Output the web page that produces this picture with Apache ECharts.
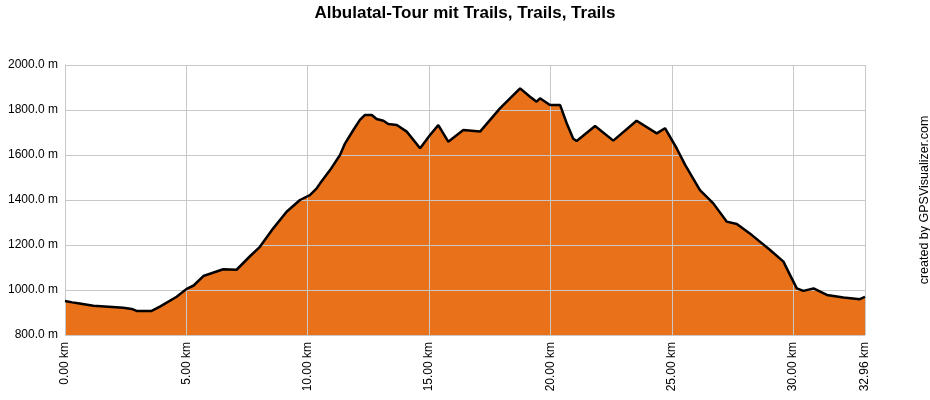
<!DOCTYPE html>
<html>
<head>
<meta charset="utf-8">
<script src="https://cdn.jsdelivr.net/npm/echarts@6/dist/echarts.min.js"></script>
<style>
  html, body { margin: 0; padding: 0; background: #fff; }
  #chart { width: 930px; height: 400px; }
</style>
</head>
<body>
<div id="chart"></div>
<script>
// profile: distance in km, elevation in m
const distances = [0, 0.3, 0.6, 1.17, 1.8, 2.4, 2.75, 2.95, 3.57, 3.91, 4.6, 5.01, 5.3, 5.7, 6.52, 7.07,
  7.62, 8.03, 8.58, 9.13, 9.68, 10.09, 10.37, 10.51, 10.92, 11.33, 11.54, 11.88, 12.15, 12.36, 12.64,
  12.84, 13.12, 13.32, 13.67, 14.08, 14.63, 15.04, 15.38, 15.45, 15.79, 16.41, 17.1, 17.92, 18.75,
  19.16, 19.43, 19.57, 19.98, 20.4, 20.67, 20.94, 21.08, 21.84, 22.59, 23.55, 24.38, 24.72, 25.2,
  25.55, 26.16, 26.71, 27.26, 27.68, 28.3, 29.05, 29.6, 29.87, 30.15, 30.42, 30.84, 31.39, 32.07,
  32.75, 32.96]
const elevations = [951, 945, 940, 930, 926, 921, 916, 907, 907, 926, 970, 1005, 1020, 1062, 1092, 1090,
  1150, 1192, 1274, 1348, 1400, 1422, 1452, 1474, 1533, 1600, 1652, 1711, 1756, 1778, 1778,
  1760, 1752, 1738, 1733, 1704, 1630, 1689, 1733, 1741, 1659, 1711, 1704, 1807, 1896,
  1859, 1837, 1852, 1822, 1822, 1741, 1672, 1662, 1729, 1664, 1752, 1696, 1719, 1630,
  1556, 1444, 1385, 1304, 1293, 1244, 1178, 1126, 1067, 1007, 996, 1007, 978, 967,
  959, 970]

const xMin = 0, xMax = 32.96, xStep = 5
const yMin = 800, yMax = 2000, yStep = 200

const points = distances.map((d, i) => [d, elevations[i]])

const chart = echarts.init(document.getElementById('chart'))

const option = {
  animation: false,
  backgroundColor: '#fff',
  title: {
    text: 'Albulatal-Tour mit Trails, Trails, Trails',
    left: 'center',
    top: 0,
    textStyle: { fontFamily: 'Liberation Sans', fontSize: 17, fontWeight: 'bold', color: '#000' }
  },
  grid: { left: 65, right: 65, top: 65, bottom: 65 },
  xAxis: {
    type: 'value',
    min: xMin,
    max: xMax,
    interval: xStep,
    z: 3,
    axisLine: { show: false },
    axisTick: { show: false },
    splitLine: { show: true, lineStyle: { color: '#c8c8c8', width: 1 } },
    axisLabel: {
      rotate: 90,
      margin: 7,
      showMaxLabel: true,
      fontFamily: 'Liberation Sans',
      fontSize: 12,
      color: '#000',
      formatter: v => v.toFixed(2) + ' km'
    }
  },
  yAxis: {
    type: 'value',
    min: yMin,
    max: yMax,
    interval: yStep,
    z: 3,
    axisLine: { show: true, lineStyle: { color: '#c8c8c8' } },
    axisTick: { show: false },
    splitLine: { show: true, lineStyle: { color: '#c8c8c8', width: 1 } },
    axisLabel: {
      margin: 7,
      fontFamily: 'Liberation Sans',
      fontSize: 12,
      color: '#000',
      formatter: v => v.toFixed(1) + ' m'
    }
  },
  series: [
    {
      // filled profile, below the grid lines
      type: 'line',
      data: points,
      z: 1,
      symbol: 'none',
      lineStyle: { width: 0 },
      areaStyle: { color: '#e8711a', opacity: 1, origin: 'start' }
    },
    {
      // outline on top
      type: 'line',
      data: points,
      z: 5,
      symbol: 'none',
      lineStyle: { color: '#000', width: 2.5 }
    }
  ],
  graphic: [
    {
      type: 'text',
      x: 925,
      y: 200,
      rotation: Math.PI / 2,
      style: {
        text: 'created by GPSVisualizer.com',
        fontFamily: 'Liberation Sans',
        fontSize: 12.5,
        fill: '#000',
        align: 'center',
        verticalAlign: 'middle'
      }
    }
  ]
}

chart.setOption(option)
</script>
</body>
</html>
